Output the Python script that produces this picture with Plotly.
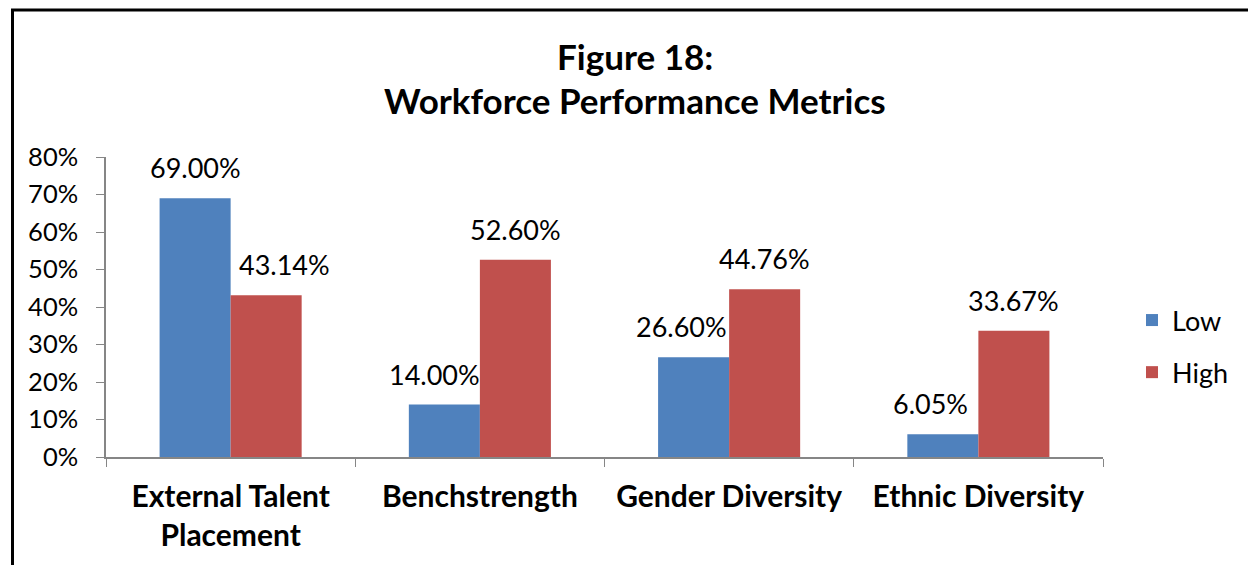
import plotly.graph_objects as go

categories = ["External Talent<br>Placement", "Benchstrength", "Gender Diversity", "Ethnic Diversity"]
low_values = [0.69, 0.14, 0.266, 0.0605]
high_values = [0.4314, 0.526, 0.4476, 0.3367]
low_labels = ["69.00%", "14.00%", "26.60%", "6.05%"]
high_labels = ["43.14%", "52.60%", "44.76%", "33.67%"]
title_line1 = "Figure 18:"
title_line2 = "Workforce Performance Metrics"

BLUE = "#4F81BD"
RED = "#C0504D"
FONT = "Lato, Carlito, Calibri, sans-serif"

W, H = 1248, 565
L, R, T, B = 106, 145, 157, 108
PW, PH = W - L - R, H - T - B

def px_x(p):
    return (p - L) / PW

def px_y(p):
    return (H - B - p) / PH

fig = go.Figure()
fig.add_trace(go.Bar(x=categories, y=low_values, name="Low", marker=dict(color=BLUE, line=dict(width=0)),
                     legendgroup="a"))
fig.add_trace(go.Bar(x=categories, y=high_values, name="High", marker=dict(color=RED, line=dict(width=0)),
                     legendgroup="b"))

# data labels
low_adj = [0, -10, -12, -12]
high_adj = [18, 0, 0, 0]
bar_half = PW / len(categories) * (1 - 0.43) / 4
LBL = 27
anns = []
for c, v, t, a in zip(categories, low_values, low_labels, low_adj):
    anns.append(dict(x=c, y=v, text=t, showarrow=False, xref="x", yref="y", yanchor="bottom",
                     xshift=-bar_half + a, yshift=12, font=dict(size=LBL, color="black", family=FONT)))
for c, v, t, a in zip(categories, high_values, high_labels, high_adj):
    anns.append(dict(x=c, y=v, text=t, showarrow=False, xref="x", yref="y", yanchor="bottom",
                     xshift=bar_half + a, yshift=12, font=dict(size=LBL, color="black", family=FONT)))

anns.append(dict(x=px_x(635), y=px_y(56), xref="paper", yref="paper", text="<b>" + title_line1 + "</b>",
                 showarrow=False, xanchor="center", yanchor="middle",
                 font=dict(size=35, color="black", family=FONT)))
anns.append(dict(x=px_x(635), y=px_y(100), xref="paper", yref="paper", text="<b>" + title_line2 + "</b>",
                 showarrow=False, xanchor="center", yanchor="middle",
                 font=dict(size=35, color="black", family=FONT)))

shapes = [
    dict(type="line", xref="paper", yref="paper", x0=px_x(12.5), x1=px_x(12.5), y0=px_y(9), y1=px_y(H + 5),
         line=dict(color="black", width=3)),
    dict(type="line", xref="paper", yref="paper", x0=px_x(11), x1=px_x(W + 5), y0=px_y(10), y1=px_y(10),
         line=dict(color="black", width=3)),
]

fig.update_layout(
    width=W, height=H,
    margin=dict(l=L, r=R, t=T, b=B, autoexpand=False),
    paper_bgcolor="white", plot_bgcolor="white",
    barmode="group", bargap=0.43, bargroupgap=0,
    font=dict(family=FONT, color="black"),
    annotations=anns, shapes=shapes,
    legend=dict(x=px_x(1132), y=px_y(296), xanchor="left", yanchor="top", tracegroupgap=14,
                font=dict(size=27, color="black", family=FONT), bgcolor="rgba(0,0,0,0)"),
    showlegend=True,
)
fig.update_yaxes(range=[0, 0.8], dtick=0.1, tickformat=".0%", showgrid=False, zeroline=False,
                 showline=True, linecolor="#868686", linewidth=1.5, ticks="outside", ticklen=8,
                 tickcolor="#868686", ticklabelstandoff=13,
                 tickfont=dict(size=25.5, color="black", family=FONT))
fig.update_xaxes(showgrid=False, showline=True, linecolor="#868686", linewidth=1.5, ticks="outside",
                 ticklen=8, tickcolor="#868686", tickson="boundaries", ticklabelstandoff=12,
                 tickprefix="<b>", ticksuffix="</b>",
                 tickfont=dict(size=30, color="black", family=FONT))

fig.write_html("out.html", config={"displayModeBar": False},
               post_script="document.body.style.margin='0';document.body.style.overflow='hidden';")
